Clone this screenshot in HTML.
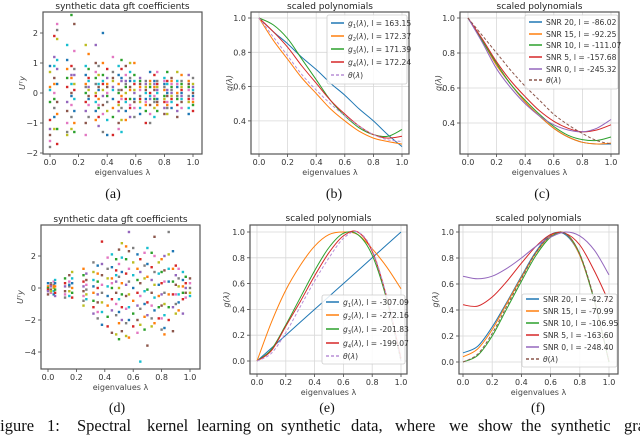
<!DOCTYPE html>
<html><head><meta charset="utf-8"><style>
html,body{margin:0;padding:0;background:#fff;width:640px;height:435px;overflow:hidden}
svg{display:block;font-family:"DejaVu Sans","Liberation Sans",sans-serif}
</style></head><body>
<svg id="fig" width="640" height="435" viewBox="0 0 640 435" xmlns="http://www.w3.org/2000/svg"></svg>
<script>
// ---------- data ----------
const curveX = [0,0.1,0.2,0.3,0.4,0.5,0.6,0.7,0.8,0.9,1.0];
const bLabels = ["1","2","3","4"];
const bVals = ["163.15","172.37","171.39","172.24"];
const bG1 = [1,0.92,0.85,0.77,0.70,0.62,0.55,0.47,0.40,0.32,0.25];
const bG2 = [1,0.87,0.76,0.65,0.56,0.47,0.40,0.34,0.30,0.28,0.265];
const bG3 = [1,0.96,0.88,0.76,0.64,0.52,0.43,0.36,0.32,0.31,0.35];
const bG4 = [1,0.92,0.83,0.72,0.62,0.52,0.44,0.37,0.32,0.30,0.31];
const bTheta = [1,0.89,0.78,0.67,0.58,0.50,0.43,0.37,0.32,0.29,0.28];
const cNames = ["SNR 20, l = -86.02","SNR 15, l = -92.25","SNR 10, l = -111.07","SNR 5, l = -157.68","SNR 0, l = -245.32"];
const cS20 = [1,0.87,0.73,0.62,0.52,0.44,0.37,0.32,0.29,0.28,0.28];
const cS15 = [1,0.87,0.73,0.62,0.52,0.44,0.37,0.32,0.29,0.28,0.285];
const cS10 = [1,0.87,0.74,0.62,0.53,0.45,0.38,0.33,0.305,0.30,0.32];
const cS5 = [1,0.88,0.75,0.64,0.55,0.47,0.41,0.37,0.35,0.36,0.39];
const cS0 = [1,0.86,0.71,0.60,0.51,0.44,0.39,0.36,0.35,0.37,0.42];
const cTheta = [1,0.90,0.80,0.70,0.61,0.53,0.45,0.39,0.34,0.30,0.28];
const eVals = ["-307.09","-272.16","-201.83","-199.07"];
const eG1 = [0,0.1,0.2,0.3,0.4,0.5,0.6,0.7,0.8,0.9,1.0];
const eG2 = [0,0.3,0.55,0.74,0.89,0.98,1.0,0.98,0.87,0.73,0.56];
const eG3 = [0,0.09,0.28,0.49,0.70,0.88,0.99,0.98,0.82,0.48,0.0];
const eG4 = [0,0.08,0.27,0.46,0.66,0.84,0.97,1.0,0.85,0.50,0.02];
const eTheta = [0,0.06,0.22,0.42,0.62,0.80,0.95,1.0,0.86,0.50,0.0];
const fNames = ["SNR 20, l = -42.72","SNR 15, l = -70.99","SNR 10, l = -106.95","SNR 5, l = -163.60","SNR 0, l = -248.40"];
const fS20 = [0.07,0.12,0.27,0.46,0.66,0.85,0.98,0.98,0.82,0.47,0.0];
const fS15 = [0.04,0.10,0.25,0.45,0.65,0.84,0.97,0.99,0.82,0.47,0.0];
const fS10 = [0.0,0.05,0.20,0.41,0.62,0.82,0.96,0.99,0.83,0.47,0.0];
const fS5 = [0.44,0.43,0.50,0.62,0.76,0.89,0.98,0.99,0.90,0.70,0.46];
const fS0 = [0.66,0.64,0.66,0.72,0.80,0.89,0.96,1.0,0.97,0.86,0.67];
const fTheta = [0,0.06,0.22,0.43,0.64,0.84,0.97,0.99,0.83,0.48,0.0];
const aEig = [0,0.03,0.05,0.12,0.15,0.17,0.25,0.27,0.32,0.34,0.37,0.40,0.44,0.48,0.50,0.53,0.56,0.59,0.63,0.67,0.70,0.73,0.75,0.80,0.82,0.85,0.89,0.92,0.97,1.00];
const aCoef = [
[0.9,0.2,-0.3,-0.9,-1.2,-1.4,-1.6,-1.8,0.7,0.1],[1.9,1.2,0.5,0.0,-0.5,-1.2,0.9,-0.8,0.3,-0.2],
[2.3,2.1,1.8,1.1,0.3,-0.7,-1.2,-1.7,0.8,-0.3],[1.6,1.1,0.8,0.5,0.2,-0.3,-0.6,-1.0,-1.3,-1.4],
[2.6,0.9,0.6,0.0,-0.4,-0.8,-1.2,0.3,-0.1,0.5],[2.3,1.4,0.8,0.3,-0.2,-0.6,-1.0,-1.3,0.1,0.6],
[1.6,0.9,0.6,0.3,0.0,-0.3,-0.6,-1.0,-1.4,0.2],[1.3,0.8,0.5,0.2,-0.1,-0.4,-0.8,0.1,0.4,-0.2],
[1.6,1.0,0.7,0.3,0.0,-0.3,-0.6,-0.9,0.5,-0.1],[0.9,0.6,0.3,0.1,-0.2,-0.5,-0.8,-1.1,0.2,-0.4],
[2.0,1.0,0.6,0.3,-0.1,-0.4,-0.7,-1.3,0.1,0.4],[0.8,0.5,0.2,0.0,-0.3,-0.6,-0.9,-1.4,0.3,-0.1],
[1.2,0.7,0.4,0.1,-0.2,-0.5,-0.8,-1.4,0.2,0.5],[0.9,0.6,0.3,0.0,-0.3,-0.6,-1.0,-1.2,0.1,-0.4],
[1.1,0.8,0.4,0.1,-0.2,-0.5,-0.9,-1.3,0.5,-0.1],[0.9,0.6,0.3,0.0,-0.3,-0.6,-0.9,0.2,-0.2,0.4],
[1.0,0.7,0.4,0.1,-0.2,-0.5,-0.8,0.2,-0.4,0.5],[1.0,0.6,0.3,0.0,-0.3,-0.5,-0.8,0.1,0.4,-0.2],
[0.5,0.3,0.1,-0.1,-0.3,-0.5,-0.7,0.2,0.4,-0.2],[0.4,0.2,0.0,-0.2,-0.4,-0.6,-1.0,0.3,0.1,-0.3],
[0.7,0.4,0.2,0.0,-0.2,-0.4,-0.7,-1.0,0.3,-0.1],[0.6,0.3,0.1,-0.1,-0.3,-0.5,-0.8,0.4,0.2,-0.2],
[0.7,0.4,0.2,0.0,-0.2,-0.4,-0.6,0.3,0.1,-0.3],[0.5,0.3,0.1,-0.1,-0.3,-0.5,-0.7,0.4,0.2,-0.2],
[0.7,0.4,0.1,-0.1,-0.3,-0.5,-0.7,0.3,0.0,-0.4],[0.5,0.3,0.1,-0.1,-0.3,-0.5,0.4,0.2,-0.2,0.0],
[0.7,0.4,0.2,0.0,-0.2,-0.4,-0.6,-0.8,0.3,-0.1],[0.6,0.3,0.1,-0.1,-0.3,-0.5,0.4,0.2,-0.2,0.0],
[0.6,0.3,0.1,-0.1,-0.3,-0.5,-0.7,0.4,0.2,-0.2],[0.5,0.3,0.1,-0.1,-0.3,-0.4,-0.6,0.2,0.0,-0.2]];
const dEig = [0,0.02,0.04,0.05,0.12,0.15,0.17,0.25,0.27,0.32,0.35,0.38,0.42,0.45,0.48,0.50,0.52,0.55,0.57,0.60,0.63,0.65,0.68,0.70,0.73,0.75,0.78,0.80,0.82,0.85,0.88,0.90,0.92,0.95,0.97,1.00];
const dCoef = [
[0.3,0.1,0,-0.1,-0.2,-0.4],[0.2,0.1,-0.1,-0.3,0.3,-0.2],[0.4,0.2,0,-0.2,-0.4,0.1],[0.5,0.3,0.1,-0.1,-0.3,-0.5],
[0.6,0.3,0.1,-0.2,-0.4,-0.6],[0.8,0.4,0.1,-0.2,-0.5,0.2],[1.0,0.6,0.3,0,-0.3,-0.6],
[1.2,0.8,0.4,0.1,-0.2,-0.5,-0.8,-1.1],[0.9,0.5,0.2,-0.1,-0.4,-0.7],[1.6,1.0,0.5,0.1,-0.3,-0.8,-1.2,-1.6],
[1.4,0.9,0.4,0,-0.4,-0.9,-1.5,-1.9],[2.9,1.5,0.8,0.2,-0.3,-0.9,-1.5,-2.3],[1.9,1.2,0.6,0.1,-0.5,-1.1,-1.8,-2.4],
[2.1,1.3,0.6,0,-0.7,-1.4,-2.8,0.3],[1.8,1.1,0.4,-0.3,-1.0,-1.7,-2.9,0.8],[2.4,1.5,0.7,0,-0.7,-1.5,-2.2,-3.2],
[2.8,1.9,1.0,0.3,-0.4,-1.2,-2.0,-2.7],[2.6,1.8,0.9,0.2,-0.5,-1.3,-2.2,-3.0],[3.5,2.3,1.2,0.4,-0.4,-1.2,-2.0,-3.1],
[2.5,1.6,0.8,0,-0.8,-1.6,-2.4],[2.1,1.2,0.5,-0.3,-1.1,-2.0,-2.8],[1.8,1.0,0.3,-0.5,-1.3,-2.3,-4.6],
[2.2,1.4,0.6,-0.2,-1.0,-1.8,-2.6],[2.5,1.5,0.7,-0.1,-0.9,-1.7,-3.6],[2.2,1.3,0.5,-0.3,-1.1,-1.9,-2.4],
[3.2,2.0,1.0,0.2,-0.6,-1.4,-2.2],[1.6,0.9,0.2,-0.5,-1.2,-1.9],[1.8,1.0,0.3,-0.4,-1.1,-1.9,-2.6],
[2.0,1.1,0.4,-0.3,-1.0,-1.7,-2.5,-2.9],[3.5,2.1,1.2,0.4,-0.4,-1.2,-2.0],[2.3,1.2,0.4,-0.4,-1.2,-2.7],
[1.4,0.8,0.2,-0.4,-1.0,-1.6],[1.2,0.6,0.1,-0.4,-0.9,-1.4],[1.0,0.5,0.1,-0.3,-0.7,-1.6],
[0.7,0.3,0,-0.3,-0.6],[0.6,0.3,0,-0.3,-0.5]];
const xTicks = [0,0.2,0.4,0.6,0.8,1.0];
const xTickLabels = ["0.0","0.2","0.4","0.6","0.8","1.0"];

// ---------- helpers ----------
const NS="http://www.w3.org/2000/svg";
const svg=document.getElementById('fig');
const tab=["#1f77b4","#ff7f0e","#2ca02c","#d62728","#9467bd","#8c564b","#e377c2","#7f7f7f","#bcbd22","#17becf"];
function mk(tag,attrs,parent){const e=document.createElementNS(NS,tag);for(const k in attrs)e.setAttribute(k,attrs[k]);(parent||svg).appendChild(e);return e;}
function txt(s,attrs,parent){const e=mk('text',attrs,parent);e.textContent=s;return e;}

function makeAxes(id,box,xr,yr,yTicks,yTickLabels,grid,title,ylab,sub){
  const g=mk('g',{});
  
  
  const sx=v=>xr[0]+v*(xr[1]-xr[0]);
  const sy=v=>yr[0]+(v-yr[2])*(yr[1]-yr[0])/(yr[3]-yr[2]);
  const clip=mk('clipPath',{id:'clip-'+id},g);
  mk('rect',{x:box[0],y:box[1],width:box[2]-box[0],height:box[3]-box[1]},clip);
  mk('rect',{x:box[0],y:box[1],width:box[2]-box[0],height:box[3]-box[1],fill:'#fff'},g);
  if(grid){
    xTicks.forEach(t=>mk('line',{x1:sx(t),x2:sx(t),y1:box[1],y2:box[3],stroke:'#d8d8d8','stroke-width':0.8},g));
    yTicks.forEach(t=>mk('line',{x1:box[0],x2:box[2],y1:sy(t),y2:sy(t),stroke:'#d8d8d8','stroke-width':0.8},g));
  }
  const xa=mk('g',{},g);
  
  
  xTicks.forEach((t,i)=>{
    mk('line',{x1:sx(t),x2:sx(t),y1:box[3],y2:box[3]+3,stroke:'#444','stroke-width':0.8},xa);
    txt(xTickLabels[i],{x:sx(t),y:box[3]+11,'font-size':8,'text-anchor':'middle',fill:'#333'},xa);
  });
  const xl=txt('eigenvalues λ',{x:(box[0]+box[2])/2,y:box[3]+21,'font-size':8,'text-anchor':'middle',fill:'#444'},g);
  
  
  const ya=mk('g',{},g);
  
  
  yTicks.forEach((t,i)=>{
    mk('line',{x1:box[0]-3,x2:box[0],y1:sy(t),y2:sy(t),stroke:'#444','stroke-width':0.8},ya);
    txt(yTickLabels[i],{x:box[0]-5,y:sy(t)+3,'font-size':8,'text-anchor':'end',fill:'#333'},ya);
  });
  const yl=txt(ylab.t,{x:0,y:0,'font-size':8,'text-anchor':'middle',fill:'#444','font-style':'italic',transform:`translate(${ylab.x},${(box[1]+box[3])/2}) rotate(-90)`},g);
  
  
  const tt=txt(title.t,{x:(box[0]+box[2])/2,y:title.y,'font-size':9,'text-anchor':'middle',fill:'#222'},g);
  
  
  const st=txt(sub.t,{x:sub.x,y:sub.y,'font-size':14,'text-anchor':'middle',fill:'#111',style:'font-family:"Liberation Serif",serif'},g);
  
  
  const plot=mk('g',{'clip-path':`url(#clip-${id})`},g);
  return {g,plot,sx,sy,box};
}
function frame(ax){
  mk('rect',{x:ax.box[0],y:ax.box[1],width:ax.box[2]-ax.box[0],height:ax.box[3]-ax.box[1],fill:'none',stroke:'#555','stroke-width':1.2},ax.g);
}
function curve(ax,ys,color,name,dash){
  const pts=curveX.map((x,i)=>[ax.sx(x),ax.sy(ys[i])]);
  let p='M'+pts[0][0]+','+pts[0][1];
  for(let i=0;i<pts.length-1;i++){
    const p0=pts[Math.max(0,i-1)],p1=pts[i],p2=pts[i+1],p3=pts[Math.min(pts.length-1,i+2)];
    const c1=[p1[0]+(p2[0]-p0[0])/6,p1[1]+(p2[1]-p0[1])/6],c2=[p2[0]-(p3[0]-p1[0])/6,p2[1]-(p3[1]-p1[1])/6];
    p+=`C${c1[0].toFixed(1)},${c1[1].toFixed(1)} ${c2[0].toFixed(1)},${c2[1].toFixed(1)} ${p2[0].toFixed(1)},${p2[1].toFixed(1)}`;
  }
  const e=mk('path',{d:p,fill:'none',stroke:color,'stroke-width':1,'stroke-dasharray':dash?'3,2':'none'},ax.plot);
  
  
}
function scatter(ax,eig,coef,name){
  const grp=mk('g',{},ax.plot);
  
  
  eig.forEach((l,i)=>coef[i].forEach((v,j)=>{
    mk('rect',{x:ax.sx(l)-1.2,y:ax.sy(v)-1.2,width:2.4,height:2.4,fill:tab[(i*3+j)%10]},grp);
  }));
}
function legend(ax,id,rect,rows,rowY){
  const g=mk('g',{},ax.g);
  
  
  mk('rect',{x:rect[0],y:rect[1],width:rect[2],height:rect[3],fill:'#fff','fill-opacity':0.85,stroke:'#ccc','stroke-width':0.8,rx:2},g);
  rows.forEach((r,i)=>{
    const y=rowY[i];
    const e=mk('g',{},g);
    
    
    mk('line',{x1:rect[0]+4,x2:rect[0]+17,y1:y,y2:y,stroke:r.c,'stroke-width':1.5,'stroke-dasharray':r.dash?'3,2':'none'},e);
    const t=mk('text',{x:rect[0]+21,y:y+3,'font-size':7.6,fill:'#333'},e);
    t.innerHTML=r.html;
  });
}

// ---------- panel a ----------
const A=makeAxes('a',[43,12,202,154],[50,193],[93,63,0,1],[2,1,0,-1,-2],["2","1","0","−1","−2"],false,{t:'synthetic data gft coefficients',y:9},{x:25,t:'Uᵀy'},{x:113,y:198,t:'(a)'});
scatter(A,aEig,aCoef,'gft-coefficient-points');
frame(A);
// ---------- panel b ----------
const B=makeAxes('b',[251,12,409,154],[259,402],[18,189.5,1,0],[1,0.8,0.6,0.4],["1.0","0.8","0.6","0.4"],true,{t:'scaled polynomials',y:9},{x:232,t:'g(λ)'},{x:334,y:198,t:'(b)'});
[bG1,bG2,bG3,bG4].forEach((s,i)=>curve(B,s,tab[i],'curve-g'+(i+1)));
curve(B,bTheta,'#b88fd6','curve-theta',true);
frame(B);
legend(B,'b',[327,15,80,69],bLabels.map((l,i)=>({c:tab[i],html:`<tspan font-style="italic">g</tspan><tspan font-size="5" dy="2">${l}</tspan><tspan dy="-2">(</tspan><tspan font-style="italic">λ</tspan>), l = ${bVals[i]}`})).concat([{c:'#b88fd6',dash:true,html:'<tspan font-style="italic">θ</tspan>(<tspan font-style="italic">λ</tspan>)'}]),[23,36,49,62,75]);
// ---------- panel c ----------
const C=makeAxes('c',[460,12,619,154],[468,611],[18,193,1,0],[1,0.8,0.6,0.4],["1.0","0.8","0.6","0.4"],true,{t:'scaled polynomials',y:9},{x:441,t:'g(λ)'},{x:542,y:198,t:'(c)'});
[cS20,cS15,cS10,cS5,cS0].forEach((s,i)=>curve(C,s,tab[i],'curve-snr-'+i));
curve(C,cTheta,'#8c564b','curve-theta',true);
frame(C);
legend(C,'c',[525,15,93,74],cNames.map((n,i)=>({c:tab[i],html:n})).concat([{c:'#8c564b',dash:true,html:'<tspan font-style="italic">θ</tspan>(<tspan font-style="italic">λ</tspan>)'}]),[22,34,45,57,69,80]);
// ---------- panel d ----------
const D=makeAxes('d',[41,225,200,369],[48,190],[288,256,0,2],[2,0,-2,-4],["2","0","−2","−4"],false,{t:'synthetic data gft coefficients',y:222},{x:23,t:'Uᵀy'},{x:117,y:412,t:'(d)'});
scatter(D,dEig,dCoef,'gft-coefficient-points');
frame(D);
// ---------- panel e ----------
const E=makeAxes('e',[250,225,407,374],[257,401],[361,232,0,1],[1,0.8,0.6,0.4,0.2,0],["1.0","0.8","0.6","0.4","0.2","0.0"],true,{t:'scaled polynomials',y:221},{x:229,t:'g(λ)'},{x:327,y:412,t:'(e)'});
[eG1,eG2,eG3,eG4].forEach((s,i)=>curve(E,s,tab[i],'curve-g'+(i+1)));
curve(E,eTheta,'#b88fd6','curve-theta',true);
frame(E);
legend(E,'e',[322,295,83,69],bLabels.map((l,i)=>({c:tab[i],html:`<tspan font-style="italic">g</tspan><tspan font-size="5" dy="2">${l}</tspan><tspan dy="-2">(</tspan><tspan font-style="italic">λ</tspan>), l = ${eVals[i]}`})).concat([{c:'#b88fd6',dash:true,html:'<tspan font-style="italic">θ</tspan>(<tspan font-style="italic">λ</tspan>)'}]),[302,315,329,343,356]);
// ---------- panel f ----------
const F=makeAxes('f',[459,225,618,374],[463,609],[362,232,0,1],[1,0.8,0.6,0.4,0.2,0],["1.0","0.8","0.6","0.4","0.2","0.0"],true,{t:'scaled polynomials',y:221},{x:438,t:'g(λ)'},{x:538,y:412,t:'(f)'});
[fS20,fS15,fS10,fS5,fS0].forEach((s,i)=>curve(F,s,tab[i],'curve-snr-'+i));
curve(F,fTheta,'#8c564b','curve-theta',true);
frame(F);
legend(F,'f',[522,294,95,73],fNames.map((n,i)=>({c:tab[i],html:n})).concat([{c:'#8c564b',dash:true,html:'<tspan font-style="italic">θ</tspan>(<tspan font-style="italic">λ</tspan>)'}]),[299,311,323,335,347,359]);
</script>
<svg style="position:absolute;left:0;top:0" width="640" height="435">
<text y="431" font-size="16.5" fill="#111" style="font-family:'Liberation Serif',serif"><tspan x="-9">Figure</tspan><tspan x="47">1:</tspan><tspan x="77">Spectral</tspan><tspan x="147">kernel</tspan><tspan x="197">learning</tspan><tspan x="257">on</tspan><tspan x="281">synthetic</tspan><tspan x="351">data,</tspan><tspan x="395">where</tspan><tspan x="449">we</tspan><tspan x="478">show</tspan><tspan x="521">the</tspan><tspan x="551">synthetic</tspan><tspan x="624">graph</tspan></text>
</svg>
</body></html>
